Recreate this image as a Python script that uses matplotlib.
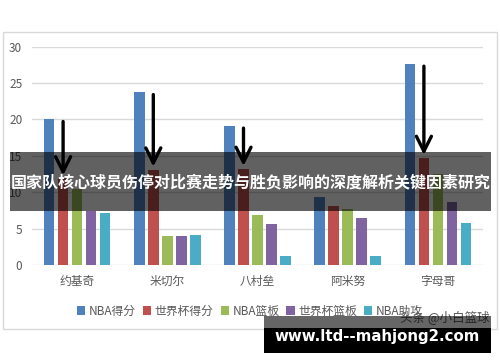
import matplotlib
matplotlib.use('Agg')
import matplotlib.pyplot as plt
from matplotlib.patches import Rectangle
import numpy as np

plt.rcParams['font.family'] = ['Noto Sans CJK SC', 'DejaVu Sans']

players = ['约基奇', '米切尔', '八村垒', '阿米努', '字母哥']
series = ['NBA得分', '世界杯得分', 'NBA篮板', '世界杯篮板', 'NBA助攻']
nba_pts = [20.0, 23.7, 19.1, 9.4, 27.6]
wc_pts = [11.9, 13.1, 13.2, 8.1, 14.7]
nba_reb = [10.4, 4.0, 6.9, 7.7, 12.5]
wc_reb = [7.4, 4.0, 5.6, 6.5, 8.7]
nba_ast = [7.2, 4.1, 1.2, 1.2, 5.8]
arrow_players = [0, 1, 2, 4]

title = '国家队核心球员伤停对比赛走势与胜负影响的深度解析关键因素研究'
colors = ['#4F81BD', '#C0504D', '#9BBB59', '#8064A2', '#4BACC6']

W, H = 500, 362
fig = plt.figure(figsize=(W / 100, H / 100), dpi=100)


def box(x0, y0, x1, y1, **kw):
    # pixel box (top-left origin) -> figure rectangle
    r = Rectangle((x0 / W, 1 - y1 / H), (x1 - x0) / W, (y1 - y0) / H,
                  transform=fig.transFigure, **kw)
    fig.patches.append(r)
    return r


# chart frame
box(3, 32, 497, 329, fill=False, edgecolor='#D9D9D9', lw=1)

ax = fig.add_axes([32 / W, 1 - 265 / H, (483 - 32) / W, (265 - 46.5) / H])
x = np.arange(len(players))
step = 14 / 90.2
width = 10.5 / 90.2
for j, vals in enumerate([nba_pts, wc_pts, nba_reb, wc_reb, nba_ast]):
    ax.bar(x + (j - 2) * step, vals, width, color=colors[j], label=series[j], zorder=3)

ax.set_xlim(-0.5, len(players) - 0.5)
ax.set_ylim(0, 30)
ax.set_yticks(range(0, 31, 5))
ax.set_xticks(x)
ax.set_xticklabels(players)
ax.grid(axis='y', color='#D9D9D9', lw=1, zorder=0)
for s in ax.spines.values():
    s.set_visible(False)
ax.tick_params(length=0, colors='#595959', labelsize=8.5)
ax.tick_params(axis='y', pad=7)
ax.tick_params(axis='x', pad=7)

for i in arrow_players:
    xr = x[i] - step
    ax.annotate('', xy=(xr, wc_pts[i] + 0.4), xytext=(xr, nba_pts[i] - 0.3),
                arrowprops=dict(arrowstyle='->,head_length=0.9,head_width=0.45',
                                mutation_scale=12, lw=2.4, color='black',
                                shrinkA=0, shrinkB=0), zorder=5)

leg = ax.legend(loc='center', bbox_to_anchor=(0.5, 1 - 311 / H), bbox_transform=fig.transFigure,
                ncol=5, frameon=False, fontsize=8.5, handlelength=0.7, handleheight=0.7,
                handletextpad=0.3, columnspacing=0.6, labelcolor='#595959')

# title banner
box(10, 152, 491, 211, facecolor='black', alpha=0.62, edgecolor='none', zorder=10)
fig.text(250.5 / W, 1 - 182 / H, title, color='white', fontsize=11.5, fontweight='bold',
         ha='center', va='center', zorder=11)

# watermarks
fig.text(490 / W, 1 - 317 / H, '头条 @小白篮球', color='#595959', fontsize=9,
         ha='right', va='center', zorder=8)
box(264, 315.5, 491, 352.5, facecolor='black', alpha=0.6, edgecolor='none', zorder=10)
box(264, 328, 491, 352.5, facecolor='black', edgecolor='none', zorder=10)
fig.text(377 / W, 1 - 337 / H, 'www.ltd--mahjong2.com', color='white', fontsize=10.8,
         fontweight='bold', family='DejaVu Sans', ha='center', va='center', zorder=11)

fig.savefig('out.png', dpi=100)
